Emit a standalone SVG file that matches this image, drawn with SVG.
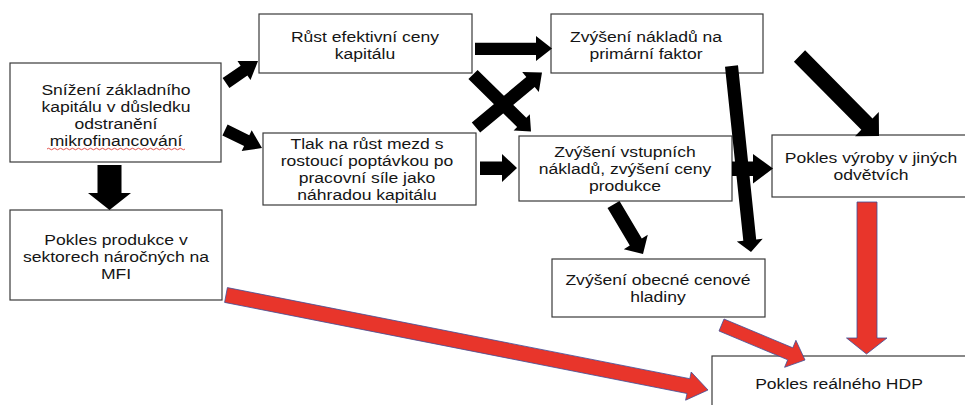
<svg xmlns="http://www.w3.org/2000/svg" width="965" height="405" viewBox="0 0 965 405">
<style>
.box{fill:#fff;stroke:#3a3a3a;stroke-width:1.2}
.t{font-family:"Liberation Sans",Arial,sans-serif;font-size:15px;fill:#151515;text-anchor:middle}
.ba{fill:#000;stroke:none}
.ra{fill:#e8352b;stroke:#3d4f99;stroke-width:0.8;stroke-linejoin:miter}
</style>
<rect width="965" height="405" fill="#fff"/>
<g id="n1"><rect class="box" x="10" y="63" width="211" height="99"/>
<text class="t" transform="translate(116,94.5) scale(1.17,1)">Snížení základního</text>
<text class="t" transform="translate(116,111.5) scale(1.17,1)">kapitálu v důsledku</text>
<text class="t" transform="translate(116,128.5) scale(1.17,1)">odstranění</text>
<text class="t" transform="translate(116,145.5) scale(1.17,1)">mikrofinancování</text>
<path d="M47,149 q1.5,-1.5 3,0 t3,0 t3,0 t3,0 t3,0 t3,0 t3,0 t3,0 t3,0 t3,0 t3,0 t3,0 t3,0 t3,0 t3,0 t3,0 t3,0 t3,0 t3,0 t3,0 t3,0 t3,0 t3,0 t3,0 t3,0 t3,0 t3,0 t3,0 t3,0 t3,0 t3,0 t3,0 t3,0 t3,0 t3,0 t3,0 t3,0 t3,0 t3,0 t3,0 t3,0 t3,0 t3,0 t3,0 t3,0 t3,0" fill="none" stroke="#e0403a" stroke-width="0.9"/>
</g>
<g id="n2"><rect class="box" x="259" y="14" width="213" height="59"/>
<text class="t" transform="translate(365,41.5) scale(1.17,1)">Růst efektivní ceny</text>
<text class="t" transform="translate(365,58.5) scale(1.17,1)">kapitálu</text></g>
<g id="n3"><rect class="box" x="551" y="14" width="212" height="59"/>
<text class="t" transform="translate(646,41.5) scale(1.17,1)">Zvýšení nákladů na</text>
<text class="t" transform="translate(646,58.5) scale(1.17,1)">primární faktor</text></g>
<g id="n4"><rect class="box" x="263" y="133" width="213" height="72"/>
<text class="t" transform="translate(367,148.5) scale(1.17,1)">Tlak na růst mezd s</text>
<text class="t" transform="translate(367,165.5) scale(1.17,1)">rostoucí poptávkou po</text>
<text class="t" transform="translate(367,182.5) scale(1.17,1)">pracovní síle jako</text>
<text class="t" transform="translate(367,199.5) scale(1.17,1)">náhradou kapitálu</text></g>
<g id="n5"><rect class="box" x="519" y="136" width="213" height="65"/>
<text class="t" transform="translate(625,157) scale(1.17,1)">Zvýšení vstupních</text>
<text class="t" transform="translate(625,174) scale(1.17,1)">nákladů, zvýšení ceny</text>
<text class="t" transform="translate(625,191) scale(1.17,1)">produkce</text></g>
<g id="n6"><rect class="box" x="772" y="135" width="200" height="62"/>
<text class="t" transform="translate(871,163) scale(1.17,1)">Pokles výroby v jiných</text>
<text class="t" transform="translate(871,180) scale(1.17,1)">odvětvích</text></g>
<g id="n7"><rect class="box" x="10" y="210" width="212" height="90"/>
<text class="t" transform="translate(116,244.7) scale(1.17,1)">Pokles produkce v</text>
<text class="t" transform="translate(116,261.7) scale(1.17,1)">sektorech náročných na</text>
<text class="t" transform="translate(116,278.7) scale(1.17,1)">MFI</text></g>
<g id="n8"><rect class="box" x="552" y="259" width="213" height="58"/>
<text class="t" transform="translate(658,285) scale(1.17,1)">Zvýšení obecné cenové</text>
<text class="t" transform="translate(658,302) scale(1.17,1)">hladiny</text></g>
<g id="n9"><rect class="box" x="712" y="356" width="260" height="60"/>
<text class="t" transform="translate(839,389) scale(1.17,1)">Pokles reálného HDP</text></g>
<g id="connectors">
<polygon class="ba" points="229.4,87.9 247.4,75.5 250.5,80.1 258,61 237.5,61.1 240.6,65.7 222.6,78.1"/>
<polygon class="ba" points="222.4,135.4 244.1,146 241.7,151 262,148 251.7,130.2 249.3,135.2 227.6,124.6"/>
<polygon class="ba" points="97.5,165 121.5,165 121.5,193 131,193 109.5,210 88,193 97.5,193"/>
<polygon class="ba" points="475,42.7 536,42.7 536,36 552,48.5 536,61 536,55 475,55"/>
<polygon class="ba" points="468.4,79.1 517.1,127 513.6,130.6 531,131.5 529.8,114.2 526.3,117.8 477.6,69.9"/>
<polygon class="ba" points="480.2,132.5 534.7,87.1 538.8,92.1 542,72.5 522.2,72.1 526.3,77.1 471.8,122.5"/>
<polygon class="ba" points="480,161.5 502,161.5 502,154 517,168 502,182 502,175 480,175"/>
<polygon class="ba" points="732,161.5 753,161.5 753,154 773,168.5 753,183.5 753,176 732,176"/>
<polygon class="ba" points="725,66.7 743.3,240.7 736.8,241.4 751,252 762.7,238.7 756.2,239.4 738,65.3"/>
<polygon class="ba" points="793.9,61.7 861.3,129.8 855,136.2 879,136 878.8,112 872.5,118.4 805.1,50.3"/>
<polygon class="ba" points="607.5,208.1 629.8,245.6 623.8,249.2 643,254 647.8,234.8 641.8,238.4 619.5,200.9"/>
<polygon class="ra" points="224.6,302.4 687,393.5 685.6,400.2 708,390 691.2,372 689.8,378.7 227.4,287.6"/>
<polygon class="ra" points="719,331 787.7,359.8 784.6,367.3 805,360 795.9,340.3 792.8,347.8 724,319"/>
<polygon class="ra" points="857,202 877,202 877,338 887,338 866.5,354 846.5,338 857,338"/>
</g>
</svg>
